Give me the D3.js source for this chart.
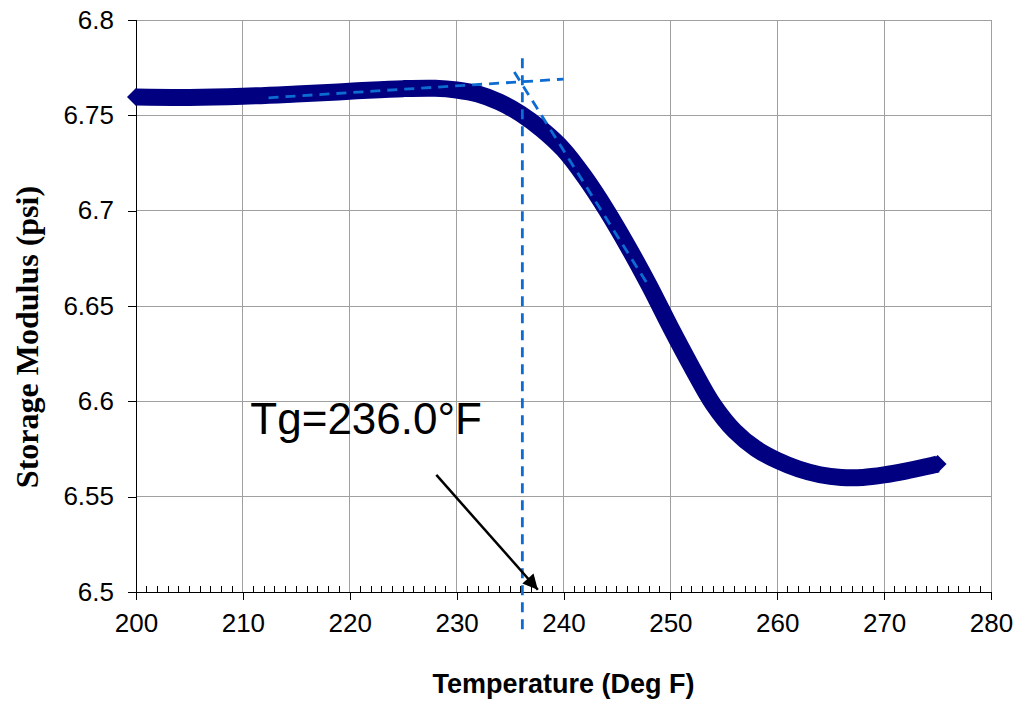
<!DOCTYPE html>
<html><head><meta charset="utf-8">
<script src="https://cdn.jsdelivr.net/npm/d3@7"></script>
<style>body{margin:0;background:#fff;} svg{display:block;}</style>
</head><body>
<svg id="chart" width="1021" height="707"></svg>
<script>
const temps = [200,205,210,215,220,225,228,230,232,234,236,238,240,242,244,246,248,250,252,254,256,258,260,262,264,266,268,270,272,274,275];
const modulus = [6.7596,6.7594,6.7600,6.7612,6.7626,6.7640,6.7642,6.7633,6.7612,6.7570,6.7508,6.7425,6.7320,6.7175,6.7005,6.6815,6.6610,6.6390,6.6180,6.5985,6.5845,6.5752,6.5690,6.5645,6.5615,6.5601,6.5601,6.5614,6.5634,6.5658,6.5671];
const xTicks = [200,210,220,230,240,250,260,270,280];
const yTicks = [6.5,6.55,6.6,6.65,6.7,6.75,6.8];
const tangentFlat = [[212.4,6.7592],[240,6.7690]];
const tangentSteep = [[235.4,6.7727],[247.8,6.6620]];
const tgLine = [[236.15,6.78],[236.15,6.48]];
const arrowPts = [[228.1,6.5614],[237.6,6.5012]];
const tgLabel = {text:"Tg=236.0°F", t:210.7, v:6.5829};

const svg = d3.select("#chart");
const W = 1021, H = 707;
const m = {left:136, right:30, top:20, bottom:115};
const x = d3.scaleLinear().domain([200,280]).range([m.left, W-m.right]);
const y = d3.scaleLinear().domain([6.5,6.8]).range([H-m.bottom, m.top]);
const sans = "'Liberation Sans', Arial, sans-serif";

// gridlines
svg.append("g").selectAll("line").data(xTicks.slice(1)).join("line")
  .attr("x1",d=>x(d)).attr("x2",d=>x(d)).attr("y1",y(6.5)).attr("y2",y(6.8))
  .attr("stroke","#a0a0a0").attr("stroke-width",1).attr("shape-rendering","crispEdges");
svg.append("g").selectAll("line").data(yTicks.slice(1)).join("line")
  .attr("x1",x(200)).attr("x2",x(280)).attr("y1",d=>y(d)).attr("y2",d=>y(d))
  .attr("stroke","#a0a0a0").attr("stroke-width",1).attr("shape-rendering","crispEdges");

// x axis: major ticks outside, minor inside
const gx = svg.append("g").attr("transform",`translate(0,${y(6.5)})`);
gx.call(d3.axisBottom(x).tickValues(xTicks).tickSize(8).tickPadding(14).tickFormat(d3.format("d")));
const minor = d3.range(200,281,1).filter(d=>d%10!==0);
gx.append("g").selectAll("line").data(minor).join("line")
  .attr("x1",d=>x(d)).attr("x2",d=>x(d)).attr("y1",0).attr("y2",-6)
  .attr("stroke","#000").attr("shape-rendering","crispEdges");
// y axis
const gy = svg.append("g").attr("transform",`translate(${x(200)},0)`);
gy.call(d3.axisLeft(y).tickValues(yTicks).tickSize(8).tickPadding(14).tickFormat(d=>String(+d.toFixed(2))));
[gx,gy].forEach(g=>{
  g.select(".domain").attr("stroke","#000").attr("shape-rendering","crispEdges");
  g.selectAll(".tick line").attr("stroke","#000").attr("shape-rendering","crispEdges");
  g.selectAll(".tick text").attr("font-family",sans).attr("font-size",26).attr("fill","#000");
});
gx.select(".domain").attr("d",`M${x(200)},0H${x(280)}`);
gy.select(".domain").attr("d",`M0,${y(6.8)}V${y(6.5)+8}`);

// data curve
const pts = temps.map((t,i)=>[t,modulus[i]]);
const line = d3.line().x(d=>x(d[0])).y(d=>y(d[1])).curve(d3.curveCatmullRom.alpha(0.5));
svg.append("path").datum(pts).attr("d",line).attr("fill","none")
  .attr("stroke","#000080").attr("stroke-width",17).attr("stroke-linejoin","round");
const dia = 9;
svg.append("g").selectAll("path").data([pts[0],pts[pts.length-1]]).join("path")
  .attr("transform",d=>`translate(${x(d[0])},${y(d[1])})`)
  .attr("d",`M${-dia},0L0,${-dia}L${dia},0L0,${dia}Z`).attr("fill","#000080");

// tangent lines
const dashColor = "#0d6cd2";
[tangentFlat,tangentSteep,tgLine].forEach(seg=>{
  svg.append("line").attr("x1",x(seg[0][0])).attr("y1",y(seg[0][1]))
    .attr("x2",x(seg[1][0])).attr("y2",y(seg[1][1]))
    .attr("stroke",dashColor).attr("stroke-width",2.8).attr("stroke-dasharray","10,7");
});

// arrow
svg.append("defs").append("marker").attr("id","ah").attr("viewBox","0 0 10 10")
  .attr("refX",10).attr("refY",5).attr("markerWidth",8).attr("markerHeight",6)
  .attr("markerUnits","strokeWidth").attr("orient","auto")
  .append("path").attr("d","M0,0L10,5L0,10Z").attr("fill","#000");
svg.append("line").attr("x1",x(arrowPts[0][0])).attr("y1",y(arrowPts[0][1]))
  .attr("x2",x(arrowPts[1][0])).attr("y2",y(arrowPts[1][1]))
  .attr("stroke","#000").attr("stroke-width",2.5).attr("marker-end","url(#ah)");

// Tg label
svg.append("text").attr("x",x(tgLabel.t)).attr("y",y(tgLabel.v))
  .attr("font-family",sans).attr("font-size",44).attr("fill","#000").text(tgLabel.text);

// axis titles
svg.append("text").attr("x",(x(200)+x(280))/2).attr("y",693)
  .attr("text-anchor","middle").attr("font-family",sans).attr("font-weight","bold")
  .attr("font-size",27).text("Temperature (Deg F)");
svg.append("text").attr("transform","translate(38,337) rotate(-90)")
  .attr("text-anchor","middle").attr("font-family","'Liberation Serif','Times New Roman',serif")
  .attr("font-weight","bold").attr("font-size",32).text("Storage Modulus (psi)");
</script>
</body></html>
